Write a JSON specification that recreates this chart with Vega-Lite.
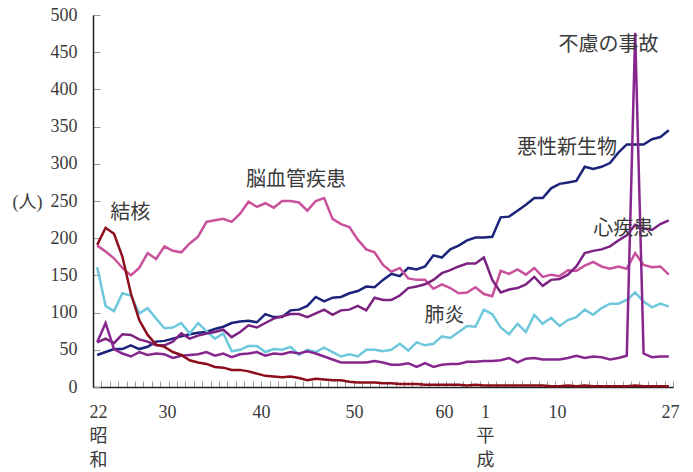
{
  "$schema": "https://vega.github.io/schema/vega-lite/v6.json",
  "width": 580,
  "height": 372,
  "autosize": {"type": "none"},
  "padding": {"left": 93, "top": 15, "right": 20, "bottom": 85},
  "background": "white",
  "config": {"view": {"stroke": null}, "axis": {"grid": false}},
  "datasets": {
    "deaths": [
      {"year":1947,"悪性新生物":43,"脳血管疾患":190,"肺炎":161,"心疾患":60,"不慮の事故":60,"結核":191},
      {"year":1948,"悪性新生物":47,"脳血管疾患":182,"肺炎":109,"心疾患":65,"不慮の事故":86,"結核":214},
      {"year":1949,"悪性新生物":51,"脳血管疾患":173,"肺炎":102,"心疾患":59,"不慮の事故":51,"結核":206},
      {"year":1950,"悪性新生物":51,"脳血管疾患":160,"肺炎":126,"心疾患":71,"不慮の事故":45,"結核":175},
      {"year":1951,"悪性新生物":56,"脳血管疾患":150,"肺炎":123,"心疾患":70,"不慮の事故":41,"結核":126},
      {"year":1952,"悪性新生物":51,"脳血管疾患":160,"肺炎":99,"心疾患":64,"不慮の事故":47,"結核":90},
      {"year":1953,"悪性新生物":54,"脳血管疾患":180,"肺炎":106,"心疾患":61,"不慮の事故":43,"結核":70},
      {"year":1954,"悪性新生物":61,"脳血管疾患":172,"肺炎":92,"心疾患":56,"不慮の事故":45,"結核":57},
      {"year":1955,"悪性新生物":62,"脳血管疾患":189,"肺炎":79,"心疾患":56,"不慮の事故":44,"結核":54},
      {"year":1956,"悪性新生物":65,"脳血管疾患":183,"肺炎":80,"心疾患":61,"不慮の事故":39,"結核":47},
      {"year":1957,"悪性新生物":68,"脳血管疾患":181,"肺炎":86,"心疾患":72,"不慮の事故":42,"結核":43},
      {"year":1958,"悪性新生物":71,"脳血管疾患":193,"肺炎":72,"心疾患":65,"不慮の事故":43,"結核":36},
      {"year":1959,"悪性新生物":73,"脳血管疾患":202,"肺炎":86,"心疾患":69,"不慮の事故":44,"結核":33},
      {"year":1960,"悪性新生物":74,"脳血管疾患":222,"肺炎":75,"心疾患":72,"不慮の事故":47,"結核":31},
      {"year":1961,"悪性新生物":78,"脳血管疾患":224,"肺炎":65,"心疾患":74,"不慮の事故":42,"結核":27},
      {"year":1962,"悪性新生物":81,"脳血管疾患":226,"肺炎":72,"心疾患":77,"不慮の事故":45,"結核":26},
      {"year":1963,"悪性新生物":86,"脳血管疾患":222,"肺炎":48,"心疾患":67,"不慮の事故":40,"結核":23},
      {"year":1964,"悪性新生物":88,"脳血管疾患":233,"肺炎":50,"心疾患":74,"不慮の事故":44,"結核":23},
      {"year":1965,"悪性新生物":89,"脳血管疾患":249,"肺炎":55,"心疾患":83,"不慮の事故":45,"結核":21},
      {"year":1966,"悪性新生物":87,"脳血管疾患":242,"肺炎":55,"心疾患":80,"不慮の事故":47,"結核":18},
      {"year":1967,"悪性新生物":98,"脳血管疾患":247,"肺炎":47,"心疾患":86,"不慮の事故":42,"結核":15},
      {"year":1968,"悪性新生物":94,"脳血管疾患":241,"肺炎":51,"心疾患":92,"不慮の事故":45,"結核":14},
      {"year":1969,"悪性新生物":94,"脳血管疾患":250,"肺炎":50,"心疾患":95,"不慮の事故":44,"結核":13},
      {"year":1970,"悪性新生物":103,"脳血管疾患":250,"肺炎":54,"心疾患":98,"不慮の事故":47,"結核":14},
      {"year":1971,"悪性新生物":104,"脳血管疾患":248,"肺炎":43,"心疾患":98,"不慮の事故":45,"結核":12},
      {"year":1972,"悪性新生物":109,"脳血管疾患":237,"肺炎":50,"心疾患":94,"不慮の事故":48,"結核":9},
      {"year":1973,"悪性新生物":121,"脳血管疾患":250,"肺炎":47,"心疾患":99,"不慮の事故":45,"結核":11},
      {"year":1974,"悪性新生物":115,"脳血管疾患":254,"肺炎":53,"心疾患":104,"不慮の事故":41,"結核":10},
      {"year":1975,"悪性新生物":120,"脳血管疾患":226,"肺炎":47,"心疾患":97,"不慮の事故":37,"結核":9},
      {"year":1976,"悪性新生物":121,"脳血管疾患":219,"肺炎":41,"心疾患":103,"不慮の事故":33,"結核":9},
      {"year":1977,"悪性新生物":126,"脳血管疾患":215,"肺炎":44,"心疾患":104,"不慮の事故":33,"結核":7},
      {"year":1978,"悪性新生物":129,"脳血管疾患":198,"肺炎":41,"心疾患":109,"不慮の事故":33,"結核":6},
      {"year":1979,"悪性新生物":135,"脳血管疾患":185,"肺炎":50,"心疾患":103,"不慮の事故":33,"結核":6},
      {"year":1980,"悪性新生物":134,"脳血管疾患":181,"肺炎":50,"心疾患":120,"不慮の事故":35,"結核":6},
      {"year":1981,"悪性新生物":144,"脳血管疾患":164,"肺炎":48,"心疾患":117,"不慮の事故":33,"結核":5},
      {"year":1982,"悪性新生物":152,"脳血管疾患":155,"肺炎":50,"心疾患":117,"不慮の事故":30,"結核":5},
      {"year":1983,"悪性新生物":149,"脳血管疾患":160,"肺炎":58,"心疾患":123,"不慮の事故":30,"結核":4},
      {"year":1984,"悪性新生物":160,"脳血管疾患":146,"肺炎":49,"心疾患":133,"不慮の事故":32,"結核":4},
      {"year":1985,"悪性新生物":158,"脳血管疾患":144,"肺炎":60,"心疾患":135,"不慮の事故":27,"結核":4},
      {"year":1986,"悪性新生物":162,"脳血管疾患":144,"肺炎":56,"心疾患":138,"不慮の事故":32,"結核":3},
      {"year":1987,"悪性新生物":177,"脳血管疾患":132,"肺炎":58,"心疾患":144,"不慮の事故":27,"結核":3},
      {"year":1988,"悪性新生物":174,"脳血管疾患":138,"肺炎":68,"心疾患":153,"不慮の事故":30,"結核":3},
      {"year":1989,"悪性新生物":185,"脳血管疾患":133,"肺炎":66,"心疾患":157,"不慮の事故":31,"結核":3},
      {"year":1990,"悪性新生物":190,"脳血管疾患":126,"肺炎":74,"心疾患":162,"不慮の事故":31,"結核":3},
      {"year":1991,"悪性新生物":197,"脳血管疾患":127,"肺炎":82,"心疾患":166,"不慮の事故":34,"結核":2},
      {"year":1992,"悪性新生物":201,"脳血管疾患":134,"肺炎":81,"心疾患":166,"不慮の事故":34,"結核":3},
      {"year":1993,"悪性新生物":201,"脳血管疾患":125,"肺炎":104,"心疾患":174,"不慮の事故":35,"結核":2},
      {"year":1994,"悪性新生物":202,"脳血管疾患":122,"肺炎":98,"心疾患":144,"不慮の事故":35,"結核":2},
      {"year":1995,"悪性新生物":228,"脳血管疾患":156,"肺炎":80,"心疾患":127,"不慮の事故":36,"結核":2},
      {"year":1996,"悪性新生物":229,"脳血管疾患":152,"肺炎":71,"心疾患":131,"不慮の事故":39,"結核":2},
      {"year":1997,"悪性新生物":237,"脳血管疾患":158,"肺炎":85,"心疾患":133,"不慮の事故":33,"結核":2},
      {"year":1998,"悪性新生物":245,"脳血管疾患":151,"肺炎":74,"心疾患":138,"不慮の事故":38,"結核":2},
      {"year":1999,"悪性新生物":254,"脳血管疾患":160,"肺炎":97,"心疾患":148,"不慮の事故":39,"結核":2},
      {"year":2000,"悪性新生物":254,"脳血管疾患":148,"肺炎":85,"心疾患":136,"不慮の事故":37,"結核":2},
      {"year":2001,"悪性新生物":267,"脳血管疾患":151,"肺炎":93,"心疾患":144,"不慮の事故":37,"結核":1},
      {"year":2002,"悪性新生物":273,"脳血管疾患":149,"肺炎":82,"心疾患":145,"不慮の事故":37,"結核":1},
      {"year":2003,"悪性新生物":275,"脳血管疾患":157,"肺炎":90,"心疾患":151,"不慮の事故":39,"結核":2},
      {"year":2004,"悪性新生物":277,"脳血管疾患":156,"肺炎":94,"心疾患":162,"不慮の事故":42,"結核":1},
      {"year":2005,"悪性新生物":296,"脳血管疾患":163,"肺炎":104,"心疾患":180,"不慮の事故":39,"結核":2},
      {"year":2006,"悪性新生物":293,"脳血管疾患":168,"肺炎":97,"心疾患":183,"不慮の事故":41,"結核":1},
      {"year":2007,"悪性新生物":296,"脳血管疾患":162,"肺炎":106,"心疾患":185,"不慮の事故":40,"結核":1},
      {"year":2008,"悪性新生物":301,"脳血管疾患":159,"肺炎":112,"心疾患":189,"不慮の事故":37,"結核":1},
      {"year":2009,"悪性新生物":315,"脳血管疾患":162,"肺炎":112,"心疾患":197,"不慮の事故":39,"結核":1},
      {"year":2010,"悪性新生物":326,"脳血管疾患":159,"肺炎":117,"心疾患":204,"不慮の事故":42,"結核":1},
      {"year":2011,"悪性新生物":326,"脳血管疾患":180,"肺炎":127,"心疾患":218,"不慮の事故":476,"結核":2},
      {"year":2012,"悪性新生物":326,"脳血管疾患":164,"肺炎":115,"心疾患":213,"不慮の事故":45,"結核":1},
      {"year":2013,"悪性新生物":333,"脳血管疾患":161,"肺炎":107,"心疾患":211,"不慮の事故":40,"結核":1},
      {"year":2014,"悪性新生物":336,"脳血管疾患":162,"肺炎":112,"心疾患":219,"不慮の事故":41,"結核":1},
      {"year":2015,"悪性新生物":345,"脳血管疾患":151,"肺炎":108,"心疾患":224,"不慮の事故":41,"結核":1}
    ],
    "labels": [
      {"label":"結核","year":1950.94,"value":234},
      {"label":"脳血管疾患","year":1970.65,"value":278},
      {"label":"悪性新生物","year":2002.89,"value":321},
      {"label":"心疾患","year":2009.59,"value":213},
      {"label":"肺炎","year":1988.32,"value":95},
      {"label":"不慮の事故","year":2007.83,"value":460}
    ]
  },
  "layer": [
    {
      "data": {"name": "deaths"},
      "transform": [
        {"fold": ["悪性新生物","脳血管疾患","肺炎","心疾患","不慮の事故","結核"], "as": ["cause","deaths"]}
      ],
      "mark": {"type": "line", "strokeWidth": 2.5},
      "encoding": {
        "x": {
          "field": "year", "type": "quantitative",
          "scale": {"domain": [1946.5, 2015.5], "nice": false, "zero": false},
          "axis": {
            "orient": "bottom", "title": null, "labels": false,
            "values": [1946.5,1947.5,1948.5,1949.5,1950.5,1951.5,1952.5,1953.5,1954.5,1955.5,1956.5,1957.5,1958.5,1959.5,1960.5,1961.5,1962.5,1963.5,1964.5,1965.5,1966.5,1967.5,1968.5,1969.5,1970.5,1971.5,1972.5,1973.5,1974.5,1975.5,1976.5,1977.5,1978.5,1979.5,1980.5,1981.5,1982.5,1983.5,1984.5,1985.5,1986.5,1987.5,1988.5,1989.5,1990.5,1991.5,1992.5,1993.5,1994.5,1995.5,1996.5,1997.5,1998.5,1999.5,2000.5,2001.5,2002.5,2003.5,2004.5,2005.5,2006.5,2007.5,2008.5,2009.5,2010.5,2011.5,2012.5,2013.5,2014.5,2015.5],
            "tickSize": -6, "tickColor": "#999999", "tickWidth": 1,
            "domainColor": "#222222", "domainWidth": 1.5
          }
        },
        "y": {
          "field": "deaths", "type": "quantitative",
          "scale": {"domain": [0, 500], "nice": false},
          "axis": {
            "orient": "left",
            "values": [0,50,100,150,200,250,300,350,400,450,500],
            "tickSize": -7, "tickColor": "#999999", "tickWidth": 1,
            "domainColor": "#222222", "domainWidth": 1.5,
            "labelFont": "Liberation Serif, Noto Sans CJK JP", "labelFontSize": 18, "labelColor": "#3a3a3a",
            "labelPadding": 23, "labelOverlap": false, "labelBound": false, "labelFlush": false,
            "title": "(人)", "titleAngle": 0, "titleX": -66, "titleY": 187,
            "titleAlign": "center", "titleBaseline": "middle",
            "titleFont": "Liberation Serif, Noto Sans CJK JP", "titleFontSize": 18, "titleFontWeight": "normal", "titleColor": "#3a3a3a"
          }
        },
        "color": {
          "field": "cause", "type": "nominal",
          "scale": {
            "domain": ["悪性新生物","脳血管疾患","肺炎","心疾患","不慮の事故","結核"],
            "range": ["#1c237a","#c9519b","#6ec7dc","#7b2282","#88268f","#8c0d1b"]
          },
          "legend": null
        }
      }
    },
    {
      "data": {"name": "labels"},
      "mark": {"type": "text", "font": "Noto Sans CJK JP", "fontSize": 20, "color": "#3a3a3a", "align": "center", "baseline": "middle"},
      "encoding": {
        "x": {
          "field": "year", "type": "quantitative",
          "scale": {"domain": [1946.5, 2015.5], "nice": false, "zero": false},
          "axis": {
            "orient": "bottom", "title": null, "ticks": false, "domain": false,
            "values": [1947.1, 1955.3, 1966.5, 1977.55, 1988.25, 1993.13, 2001.7, 2015.15],
            "labelExpr": "datum.value < 1950 ? ['22','昭','和'] : datum.value < 1960 ? '30' : datum.value < 1970 ? '40' : datum.value < 1980 ? '50' : datum.value < 1990 ? '60' : datum.value < 1995 ? ['1','平','成'] : datum.value < 2010 ? '10' : '27'",
            "labelFont": "Liberation Serif, Noto Sans CJK JP", "labelFontSize": 18, "labelColor": "#3a3a3a",
            "labelLineHeight": 24, "labelPadding": 16, "labelOverlap": false, "labelFlush": false, "labelBound": false
          }
        },
        "y": {"field": "value", "type": "quantitative", "scale": {"domain": [0, 500], "nice": false}, "axis": null},
        "text": {"field": "label"}
      }
    }
  ],
  "resolve": {"axis": {"x": "independent", "y": "independent"}}
}
